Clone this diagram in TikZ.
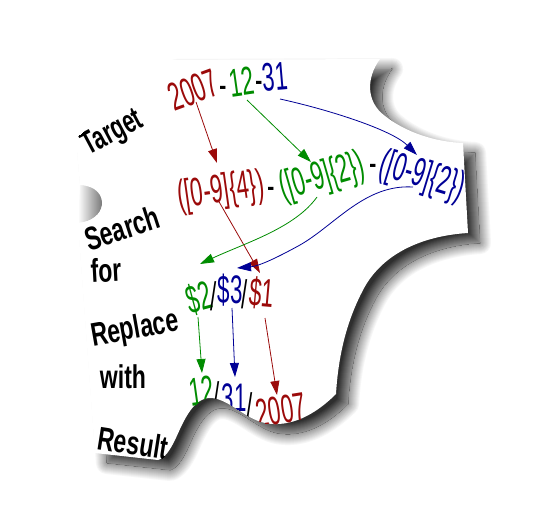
\documentclass[tikz,border=0pt]{standalone}
\usepackage{fontspec}
\setmainfont{Liberation Sans}
\usetikzlibrary{arrows.meta}
\definecolor{myred}{RGB}{155,10,10}
\definecolor{mygreen}{RGB}{0,140,0}
\definecolor{myblue}{RGB}{0,0,150}
\def\piece{(76,138) -- (165,60) -- (380,59) .. controls (366,78) and (366,102) .. (385,116) .. controls (405,132) and (435,142) .. (463,143) -- (468,233) .. controls (420,236) and (380,255) .. (362,292) .. controls (345,325) and (338,360) .. (336,394) .. controls (315,415) and (290,428) .. (265,423) .. controls (245,419) and (228,398) .. (210,398) .. controls (192,398) and (182,425) .. (175,440) .. controls (170,450) and (165,458) .. (158,460) -- (95,453) -- (78,223) .. controls (92,222) and (101,214) .. (102,205) .. controls (103,195) and (96,186) .. (80,185) -- cycle}
\def\notch{(78,223) .. controls (92,222) and (101,214) .. (102,205) .. controls (103,195) and (96,186) .. (80,185) -- cycle}
\tikzset{
  lbl/.style={font=\bfseries\fontsize{33}{33}\selectfont, xscale=0.7, inner sep=0pt},
  num/.style={font=\fontsize{40}{40}\selectfont, xscale=0.56, inner sep=0pt},
  arr/.style={line width=0.8bp, -{Triangle[length=14bp,width=9bp]}},
}
\begin{document}
\begin{tikzpicture}[x=1bp,y=-1bp]
\useasboundingbox (0,0) rectangle (557,505);
% blurred drop shadow
\begin{scope}[shift={(12,10)}]
  \foreach \s in {12,11,...,1}{
    \pgfmathsetmacro\I{82*(0.5-0.5*\s/12)}
    \pgfmathsetmacro\w{2*\s}
    \filldraw[draw=black!\I, fill=black!\I, line width=\w bp, line join=round] \piece;
  }
  \begin{scope}
    \clip \piece;
    \fill[black!82] \piece;
    \foreach \s in {12,11,...,1}{
      \pgfmathsetmacro\I{82*(0.5+0.5*\s/12)}
      \pgfmathsetmacro\w{2*\s}
      \draw[black!\I, line width=\w bp, line join=round] \piece;
    }
  \end{scope}
\end{scope}
% shaded notch on the left edge
\shade[left color=white, right color=black!55] \notch;
% the piece
\fill[white] \piece;
\begin{scope}
\clip \piece;
% labels
\node[rotate=28, lbl, xscale=0.93] (lTarget) at (113,134) {Target};
\node[rotate=18, lbl] (lSearch) at (122,228) {Search};
\node[rotate=3, lbl] (lfor) at (106,270) {for};
\node[rotate=10, lbl] (lReplace) at (135,330) {Replace};
\node[lbl] (lwith) at (123,377) {with};
\node[rotate=-9, lbl] (lResult) at (133,443) {Result};
% target row
\node[rotate=20, num, myred] (t2007) at (193,90) {2007};
\node[num] (td1) at (223,92) {-};
\node[rotate=8, num, mygreen] (t12) at (242,82) {12};
\node[num] (td2) at (259,87) {-};
\node[rotate=5, num, myblue] (t31) at (275,77) {31};
% search row
\node[rotate=8, num, myred] (s1) at (221,192) {([0-9]\{4\})};
\node[num] (sd1) at (271,193) {-};
\node[rotate=16, num, mygreen] (s2) at (322,178) {([0-9]\{2\})};
\node[num] (sd2) at (373,170) {-};
\node[rotate=-17, num, myblue] (s3) at (422,177) {([0-9]\{2\})};
% replace row
\node[rotate=15, num, mygreen] (r2) at (199,298) {\$2};
\node[num] (rs1) at (214,296) {/};
\node[num, myblue] (r3) at (230,290) {\$3};
\node[num] (rs2) at (245,294) {/};
\node[rotate=-5, num, myred] (r1) at (262,293) {\$1};
% result row
\node[rotate=8, num, mygreen] (o12) at (202,391) {12};
\node[num] (os1) at (217,396) {/};
\node[num, myblue] (o31) at (234,398) {31};
\node[num] (os2) at (250,407) {/};
\node[rotate=9, num, myred] (o2007) at (281,410) {2007};
% arrow end points
\coordinate (ra) at (196,102); \coordinate (rb) at (217,163);
\coordinate (rc) at (218,200); \coordinate (rd) at (260,273);
\coordinate (re) at (265,318); \coordinate (rf) at (277,395);
\coordinate (ga) at (247,100); \coordinate (gb) at (311,162);
\coordinate (gc) at (317,197); \coordinate (gd) at (200,264);
\coordinate (ge) at (198,317); \coordinate (gf) at (202,373);
\coordinate (ba) at (280,99);  \coordinate (bb) at (417,155);
\coordinate (bc) at (413,187); \coordinate (bm) at (300,245); \coordinate (bd) at (237,268);
\coordinate (be) at (232,308); \coordinate (bf) at (235,377);
% arrows
\draw[arr, myred] (ra) -- (rb);
\draw[arr, myred] (rc) -- (rd);
\draw[arr, myred] (re) -- (rf);
\draw[arr, mygreen] (ga) -- (gb);
\draw[arr, mygreen] (gc) .. controls (295,228) and (245,243) .. (gd);
\draw[arr, mygreen] (ge) -- (gf);
\draw[arr, myblue] (ba) .. controls (330,110) and (392,130) .. (bb);
\draw[arr, myblue] (bc) .. controls (365,184) and (335,225) .. (bm) .. controls (280,256) and (260,266) .. (bd);
\draw[arr, myblue] (be) -- (bf);
\end{scope}
\end{tikzpicture}
\end{document}
